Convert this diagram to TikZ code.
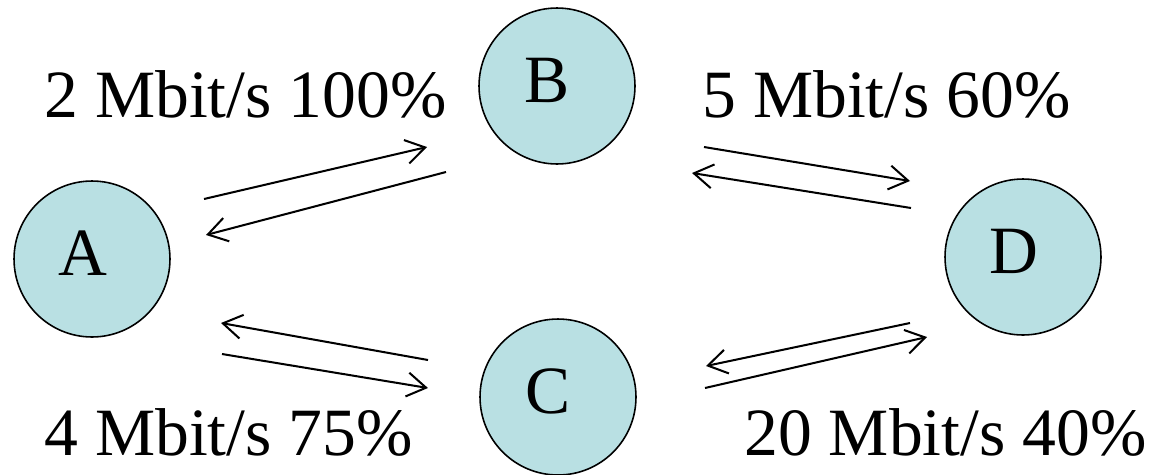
\documentclass[tikz,border=0pt]{standalone}
\usepackage{fontspec}
\setmainfont{Liberation Serif}
\usepackage{tikz}
\usetikzlibrary{arrows.meta,positioning}
\definecolor{nodeteal}{HTML}{B9E0E3}

\begin{document}
\begin{tikzpicture}[
  x=0.02cm, y=-0.02cm,
  >={Straight Barb[length=3.8mm, width=4.8mm]},
  station/.style={circle, draw=black, line width=0.9pt, fill=nodeteal, minimum size=3.12cm, inner sep=0pt},
  letter/.style={xshift=-0.19cm, yshift=0.11cm, inner sep=0pt, font=\fontsize{38.5}{44}\selectfont},
  rate/.style={anchor=base west, inner sep=0pt, font=\fontsize{38.5}{44}\selectfont},
  link/.style={->, line width=1.15pt}
]
  \useasboundingbox (0,0) rectangle (1153,474);

  % Stations
  \node[station, label={[letter]center:A}] (A) at (92,259) {};
  \node[station, label={[letter]center:B}] (B) at (557,86) {};
  \node[station, label={[letter]center:C}] (C) at (558,397) {};
  \node[station, label={[letter]center:D}] (D) at (1023,257) {};

  % Rate labels
  \node[rate] (rateAB) at (44,117) {2 Mbit/s 100\%};
  \node[rate] (rateBD) at (702,117) {5 Mbit/s 60\%};
  \node[rate] (rateAC) at (44,455) {4 Mbit/s 75\%};
  \node[rate] (rateCD) at (744,455) {20 Mbit/s 40\%};

  % Link end points
  \coordinate (ab1) at (204,199);  \coordinate (ab2) at (427,147);
  \coordinate (ba1) at (446,172);  \coordinate (ba2) at (206,235);
  \coordinate (bd1) at (704,147);  \coordinate (bd2) at (910,181);
  \coordinate (db1) at (911,208);  \coordinate (db2) at (692,173);
  \coordinate (ca1) at (428,360);  \coordinate (ca2) at (221,323);
  \coordinate (ac1) at (222,354);  \coordinate (ac2) at (428,388);
  \coordinate (dc1) at (910,323);  \coordinate (dc2) at (706,366);
  \coordinate (cd1) at (705,388);  \coordinate (cd2) at (927,337);

  % Links
  \draw[link] (ab1) -- (ab2);
  \draw[link] (ba1) -- (ba2);
  \draw[link] (bd1) -- (bd2);
  \draw[link] (db1) -- (db2);
  \draw[link] (ca1) -- (ca2);
  \draw[link] (ac1) -- (ac2);
  \draw[link] (dc1) -- (dc2);
  \draw[link] (cd1) -- (cd2);
\end{tikzpicture}
\end{document}
